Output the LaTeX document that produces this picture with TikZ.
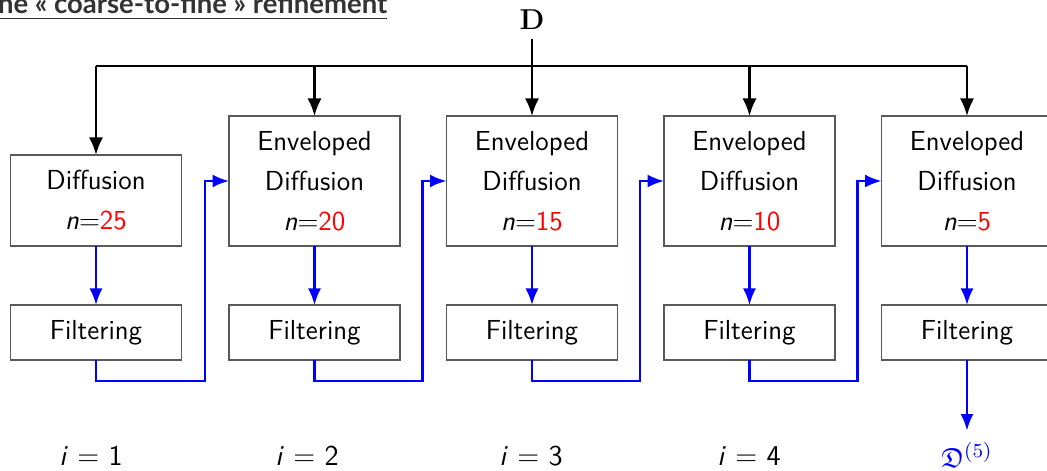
\documentclass[tikz,border=0pt]{standalone}
\usepackage{amssymb}
\usepackage{fontspec}
\newfontfamily\titlefont{Lato}
\usetikzlibrary{arrows.meta,calc}
\begin{document}
\begin{tikzpicture}[x=0.4pt,y=-0.4pt,
  every node/.style={inner sep=0pt,outer sep=0pt},
  box/.style={draw=black!65,line width=0.5pt,minimum width=68.4pt,align=center,
    font=\fontsize{11}{16}\selectfont\sffamily},
  upbox/.style={box,minimum height=52pt},
  firstbox/.style={box,minimum height=36.4pt},
  filtbox/.style={box,minimum height=22pt},
  blk/.style={line width=0.9pt,black},
  blkarrow/.style={blk,-{Latex[length=7pt,width=5.6pt]}},
  bluearrow/.style={line width=0.9pt,blue,-{Latex[length=6.6pt,width=5.2pt]}},
  lab/.style={font=\fontsize{11.5}{13}\selectfont\sffamily}]
\useasboundingbox (0,0) rectangle (1047,471);
% title
\node[anchor=base west,font=\titlefont\bfseries\fontsize{11}{13}\selectfont,text=black!80] (title) at (-2,14)
  {\underline{ne « coarse-to-fine » refinement}};
% top label
\node[font=\bfseries\fontsize{11.5}{12}\selectfont] (D) at (532,20) {D};
% upper boxes
\node[firstbox] (b1) at (96,200.5) {Diffusion\\\textit{n}=\textcolor{red}{25}};
\node[upbox] (b2) at (314.5,181) {Enveloped\\Diffusion\\\textit{n}=\textcolor{red}{20}};
\node[upbox] (b3) at (532,181) {Enveloped\\Diffusion\\\textit{n}=\textcolor{red}{15}};
\node[upbox] (b4) at (749.5,181) {Enveloped\\Diffusion\\\textit{n}=\textcolor{red}{10}};
\node[upbox] (b5) at (967,181) {Enveloped\\Diffusion\\\textit{n}=\textcolor{red}{5}};
% filter boxes
\node[filtbox] (f1) at (96,332.5) {Filtering};
\node[filtbox] (f2) at (314.5,332.5) {Filtering};
\node[filtbox] (f3) at (532,332.5) {Filtering};
\node[filtbox] (f4) at (749.5,332.5) {Filtering};
\node[filtbox] (f5) at (967,332.5) {Filtering};
% bottom labels
\node[lab] (i1) at (91,456) {\textit{i} = 1};
\node[lab] (i2) at (307,456) {\textit{i} = 2};
\node[lab] (i3) at (531,456) {\textit{i} = 3};
\node[lab] (i4) at (749,456) {\textit{i} = 4};
\node[text=blue,font=\fontsize{11}{12}\selectfont] (out) at (967,455) {$\mathfrak{D}^{(5)}$};
% black distribution
\coordinate (tl) at (96,66);
\coordinate (tr) at (967,66);
\draw[blk] (tl) -- (tr);
\draw[blkarrow] (tl) -- (b1.north);
\draw[blkarrow] (b2.north |- tl) -- (b2.north);
\draw[blkarrow] ($(D.south)+(0,9)$) -- (b3.north);
\draw[blkarrow] (b4.north |- tl) -- (b4.north);
\draw[blkarrow] (b5.north |- tl) -- (b5.north);
% blue flow
\draw[bluearrow] (b1.south) -- (f1.north);
\draw[bluearrow] (b2.south) -- (f2.north);
\draw[bluearrow] (b3.south) -- (f3.north);
\draw[bluearrow] (b4.south) -- (f4.north);
\draw[bluearrow] (b5.south) -- (f5.north);
\draw[bluearrow] (f1.south) -- ++(0,21) -| ($(b2.west)+(-24,0)$) -- (b2.west);
\draw[bluearrow] (f2.south) -- ++(0,21) -| ($(b3.west)+(-24,0)$) -- (b3.west);
\draw[bluearrow] (f3.south) -- ++(0,21) -| ($(b4.west)+(-24,0)$) -- (b4.west);
\draw[bluearrow] (f4.south) -- ++(0,21) -| ($(b5.west)+(-24,0)$) -- (b5.west);
\draw[bluearrow] (f5.south) -- ($(out.north)+(0,-12)$);
\end{tikzpicture}
\end{document}
